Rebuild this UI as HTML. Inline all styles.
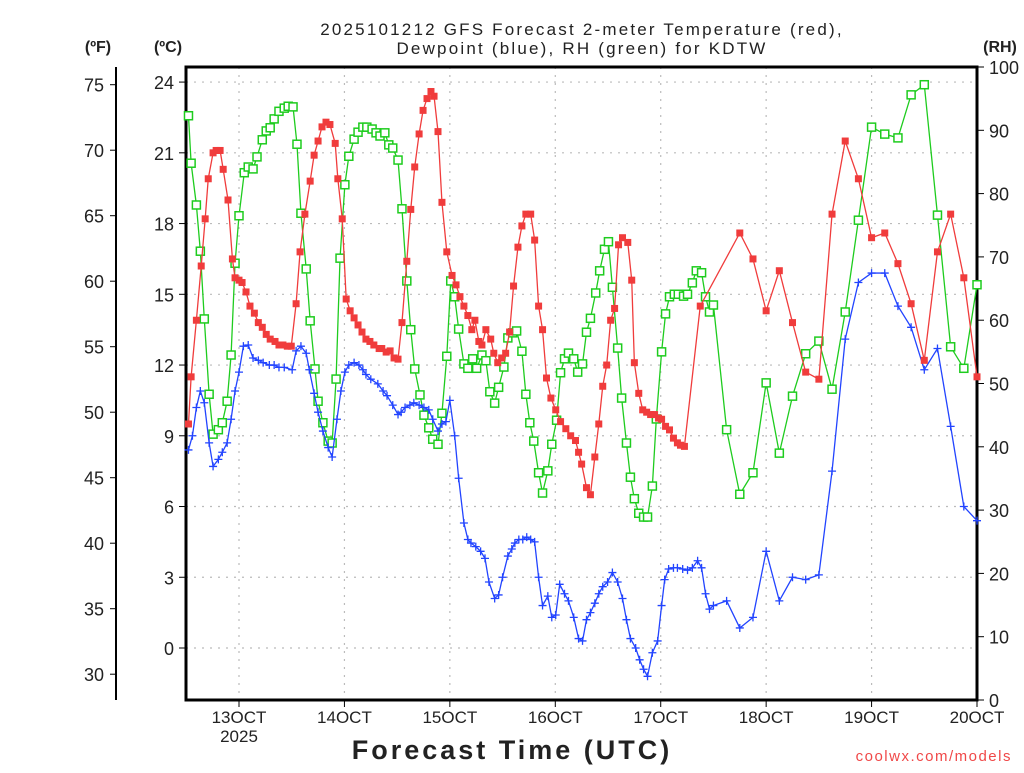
<!DOCTYPE html>
<html><head><meta charset="utf-8">
<style>
body{margin:0;background:#fff;width:1024px;height:768px;overflow:hidden}
svg text{font-family:"Liberation Sans",sans-serif;fill:#222}
</style></head>
<body>
<svg id="chart" width="1024" height="768" xmlns="http://www.w3.org/2000/svg">
<text x="582" y="35" font-size="17" text-anchor="middle" letter-spacing="2.2">2025101212 GFS Forecast 2-meter Temperature (red),</text>
<text x="582" y="54" font-size="17" text-anchor="middle" letter-spacing="2.2">Dewpoint (blue), RH (green) for KDTW</text>
<text x="98" y="52" font-size="16" font-weight="bold" text-anchor="middle">(ºF)</text>
<text x="168" y="52" font-size="16" font-weight="bold" text-anchor="middle">(ºC)</text>
<text x="1000" y="52" font-size="16" font-weight="bold" text-anchor="middle">(RH)</text>
<text x="512" y="759" font-size="27" font-weight="bold" text-anchor="middle" letter-spacing="3">Forecast Time (UTC)</text>
<text x="1012" y="761" font-size="15" text-anchor="end" style="fill:#f04848" letter-spacing="1.5">coolwx.com/models</text>
<g id="grid"></g><g id="axes"></g><g id="series"></g>
</svg>
<script>
// forecast hours from 12Z Oct 12
const tempHours=[0.5,1.1,2.3,3.4,4.3,5,6.1,6.8,7.7,8.4,9.5,10.5,11.1,12,12.7,13.6,14.5,15.5,16.4,17.3,18.2,19.1,20.2,21.1,22,23,23.9,25,25.9,27,28.2,29.1,30,30.9,31.8,32.7,33.9,34.5,35.5,36.4,37.3,38.2,39.1,40,40.9,41.8,42.7,43.9,44.5,45.5,46.4,47.3,48.2,49.1,50.2,51.1,52,53,53.9,54.8,55.7,56.4,57.3,58.2,59.3,60.5,61.4,62.3,63.2,64.1,65,65.7,66.6,67.3,68.2,69.3,70,70.9,71.8,72.7,73.6,74.5,75.5,76.4,77.3,78.4,79.3,80.2,81.1,82,83,84.1,85.2,86.4,87.5,88.6,89.3,90,91.1,92,93,93.9,94.8,95.7,96.6,97.5,98.4,99.3,100.5,101.4,102,103,103.9,104.8,105.7,106.6,107.5,108.2,109.1,110,110.9,111.8,112.5,113.4,117,126,129,132,135,138,141,144,147,150,153,156,159,162,165,168,171,174,177,180];
const tempC=[9.5,11.5,13.9,16.2,18.2,19.9,21.0,21.1,21.1,20.3,19.0,16.5,15.7,15.6,15.5,15.1,14.5,14.2,13.8,13.6,13.3,13.1,13.0,12.85,12.85,12.8,12.8,14.6,16.8,18.4,19.8,20.9,21.5,22.1,22.3,22.2,21.4,19.9,18.2,14.8,14.3,14.0,13.7,13.4,13.1,13.0,12.85,12.7,12.7,12.55,12.6,12.3,12.25,13.8,16.4,18.6,20.4,21.8,22.8,23.3,23.6,23.4,21.9,18.9,16.8,15.8,15.4,14.9,14.5,14.1,13.5,13.9,13.0,12.85,13.5,13.1,12.5,12.1,12.3,12.5,13.4,15.35,17.0,17.9,18.4,18.4,17.3,14.5,13.5,11.45,10.6,10.1,9.6,9.3,9.0,8.8,8.3,7.8,6.8,6.5,8.1,9.5,11.1,12.0,13.9,14.4,17.1,17.4,17.2,15.6,12.1,10.8,10.1,10.0,9.9,9.9,9.75,9.7,9.4,9.25,8.9,8.7,8.6,8.55,14.5,17.6,16.5,14.3,16.0,13.8,11.7,11.4,18.4,21.5,19.9,17.4,17.6,16.3,14.6,12.2,16.8,18.4,15.7,11.5];
const dewHours=[0.5,1.4,2.3,3.2,4.1,5.2,6.1,7.3,8.2,9.3,10.2,11.1,12,13,14.1,15.2,16.4,17.5,18.9,20,21.1,22.3,24.1,25,26.1,27.3,28,29.1,30,31.1,32.3,33.2,34.3,35.2,36.1,37,38.2,39.3,40.2,40.9,42,43.6,44.8,45.7,47,48.2,48.9,49.8,50.9,51.8,53,54.1,55.2,56.1,57.3,58.2,59.1,60,61.1,62,63.2,64.1,64.8,65.9,67,68,68.9,70.2,71.1,72,73.2,74.1,74.8,75.7,76.6,77.5,78.4,79.3,80.2,81.1,82.3,83.2,84.1,85,86.1,87,88.2,89.3,90.2,91.1,92,93,93.9,94.8,95.9,97,98.2,99.3,100.2,101.1,102.3,103.2,104.1,105,106.1,107.3,108.2,108.9,109.8,110.9,111.8,113,114.1,115.2,116.4,117.3,118.2,119.1,120,123,126,129,132,135,138,141,144,147,150,153,156,159,162,165,168,171,174,177,180];
const dewC=[8.4,9.0,10.2,10.9,10.4,8.7,7.7,8.0,8.3,8.7,9.7,10.9,11.7,12.8,12.85,12.3,12.2,12.1,12.0,12.0,11.9,11.9,11.8,12.6,12.8,12.5,11.8,10.8,10.0,9.2,8.5,8.1,9.7,10.9,11.7,12.0,12.1,12.0,11.8,11.6,11.4,11.2,10.9,10.7,10.3,9.9,10.0,10.2,10.3,10.4,10.3,10.2,10.1,9.7,9.2,9.5,9.6,10.5,9.0,7.2,5.3,4.6,4.45,4.3,4.1,3.8,2.8,2.1,2.25,3.0,3.9,4.2,4.45,4.6,4.6,4.7,4.6,4.5,3.0,1.8,2.2,1.3,1.4,2.7,2.3,2.0,1.3,0.4,0.3,1.2,1.5,1.9,2.3,2.6,2.8,3.2,2.8,2.1,1.2,0.4,0,-0.5,-0.9,-1.2,-0.2,0.3,1.8,2.9,3.35,3.4,3.4,3.35,3.3,3.4,3.7,3.4,2.3,1.65,1.8,2.0,0.85,1.3,4.1,2.0,3.0,2.9,3.1,7.5,13.1,15.5,15.9,15.9,14.5,13.6,11.8,12.7,9.4,6.0,5.4];
const rhHours=[0.5,1.1,2.3,3.2,4.1,5.2,6.1,7.3,8.2,9.3,10.2,11.1,12,13.2,14.1,15.2,16.1,17.3,18.2,19.1,20,21.1,22.3,23.2,24.3,25.2,26.1,27.3,28.2,29.3,30,31.1,32.3,33.2,34.1,35,36.1,37,38.2,39.1,40.2,41.1,42.3,43.2,44.1,45.2,46.1,47,48.2,49.1,50.2,51.1,52,53.2,54.1,55.2,56.1,57.3,58.2,59.3,60.2,61.1,62,63.2,64.1,65.2,66.1,67.3,68.2,69.1,70.2,71.1,72.3,73.2,74.3,75.2,76.4,77.3,78.2,79.1,80.2,81.1,82.3,83.2,84.3,85.2,86.1,87,88.2,89.1,90.2,91.1,92,93.2,94.1,95.2,96.1,97,98.2,99.1,100.2,101.1,102,103,104.1,105,106.1,107,108.2,109.1,110,111.1,112,113.2,114.1,115.2,116.1,117.3,118.2,119.1,120,123,126,129,132,135,138,141,144,147,150,153,156,159,162,165,168,171,174,177,180];
const rhPct=[92.3,84.8,78.2,70.9,60.2,48.3,42.0,42.7,43.8,47.2,54.5,69.0,76.5,83.3,84.2,83.9,85.8,88.5,89.9,90.4,91.8,93.0,93.5,93.8,93.7,87.8,76.9,68.1,59.9,52.3,47.2,43.8,40.9,40.6,50.7,69.8,81.4,85.9,88.6,89.7,90.5,90.5,90.2,89.6,89.1,89.6,87.7,87.2,85.3,77.6,66.2,58.5,52.3,48.2,45.0,43.0,41.2,40.4,45.3,54.3,66.2,63.7,58.6,53.1,52.4,53.9,52.4,54.5,53.6,48.7,46.9,49.4,52.6,57.2,58.0,58.3,55.1,48.3,43.8,40.9,35.9,32.7,36.2,40.4,44.2,51.7,53.9,54.8,53.9,51.8,53.1,58.1,60.3,64.3,67.8,71.2,72.4,65.2,55.6,47.7,40.6,35.2,31.8,29.5,28.9,28.9,33.8,44.4,55.0,61.0,63.7,64.1,64.1,63.8,64.1,65.9,67.8,67.5,63.7,61.3,62.4,42.7,32.5,35.9,50.1,39.0,48.0,54.7,56.7,49.1,61.3,75.8,90.5,89.4,88.8,95.6,97.2,76.6,55.8,52.4,65.6];
const dayLabels=["13OCT","14OCT","15OCT","16OCT","17OCT","18OCT","19OCT","20OCT"];
const cTicks=[0,3,6,9,12,15,18,21,24];
const fTicks=[30,35,40,45,50,55,60,65,70,75];
const rhTicks=[0,10,20,30,40,50,60,70,80,90,100];

const NS="http://www.w3.org/2000/svg";
const L=186,R=977,T=67,B=700;
const xS=h=>239+(h-12)*105.43/24;
const yC=c=>648-c*23.58;
const yF=f=>yC((f-32)*5/9);
const yRH=r=>B-r*(B-T)/100;
function mk(tag,attrs,parent){const e=document.createElementNS(NS,tag);for(const k in attrs)e.setAttribute(k,attrs[k]);parent.appendChild(e);return e;}
const grid=document.getElementById('grid'),axes=document.getElementById('axes'),ser=document.getElementById('series');

dayLabels.forEach((lab,i)=>{
  const x=xS(12+24*i);
  if(i<dayLabels.length-1){const g=mk('line',{x1:x,x2:x,y1:T,y2:B,stroke:'#bbb','stroke-dasharray':'2,6','stroke-width':1.2},grid);
  
  }
  mk('line',{x1:x,x2:x,y1:B,y2:B+7,stroke:'#000'},axes);
  const t=mk('text',{x:x,y:B+23,'font-size':17,'text-anchor':'middle'},axes);t.textContent=lab;
  
  
});
const yr=mk('text',{x:xS(12),y:B+42,'font-size':17,'text-anchor':'middle'},axes);yr.textContent="2025";



cTicks.forEach(c=>{
  const y=yC(c);
  const g=mk('line',{x1:L,x2:R,y1:y,y2:y,stroke:'#bbb','stroke-dasharray':'2,6','stroke-width':1.2},grid);
  
  
  mk('line',{x1:L-7,x2:L,y1:y,y2:y,stroke:'#000'},axes);
  const t=mk('text',{x:L-12,y:y+7,'font-size':18,'text-anchor':'end'},axes);t.textContent=c;
  
  
});
fTicks.forEach(f=>{
  const y=yF(f);
  mk('line',{x1:110,x2:116,y1:y,y2:y,stroke:'#000'},axes);
  const t=mk('text',{x:104,y:y+7,'font-size':18,'text-anchor':'end'},axes);t.textContent=f;
  
  
});
rhTicks.forEach(r=>{
  const y=yRH(r);
  mk('line',{x1:R,x2:R+7,y1:y,y2:y,stroke:'#000'},axes);
  const t=mk('text',{x:R+12,y:y+7,'font-size':18,'text-anchor':'start'},axes);t.textContent=r;
  
  
});
const fa=mk('line',{x1:116,x2:116,y1:T,y2:B,stroke:'#000','stroke-width':2},axes);


const frame=mk('rect',{x:L,y:T,width:R-L,height:B-T,fill:'none',stroke:'#000','stroke-width':3},axes);



function series(hours,vals,yf,color,marker,name){
  const pts=hours.map((h,i)=>[xS(h),yf(vals[i])]);
  const pl=mk('polyline',{points:pts.map(p=>p.join(',')).join(' '),fill:'none',stroke:color,'stroke-width':1.3},ser);
  
  
  pts.forEach(p=>{
    let m;
    if(marker==='filled') m=mk('rect',{x:p[0]-3.5,y:p[1]-3.5,width:7,height:7,fill:color},ser);
    else if(marker==='open') m=mk('rect',{x:p[0]-4,y:p[1]-4,width:8,height:8,fill:'#fff',stroke:color,'stroke-width':1.5},ser);
    else m=mk('path',{d:`M${p[0]-4},${p[1]}h8M${p[0]},${p[1]-4}v8`,stroke:color,'stroke-width':1.3},ser);
    
    
  });
}
series(rhHours,rhPct,yRH,'#1ecc1e','open','rh');
series(dewHours,dewC,yC,'#2244ff','plus','dewpoint');
series(tempHours,tempC,yC,'#f03c3c','filled','temperature');
</script>
</body></html>
